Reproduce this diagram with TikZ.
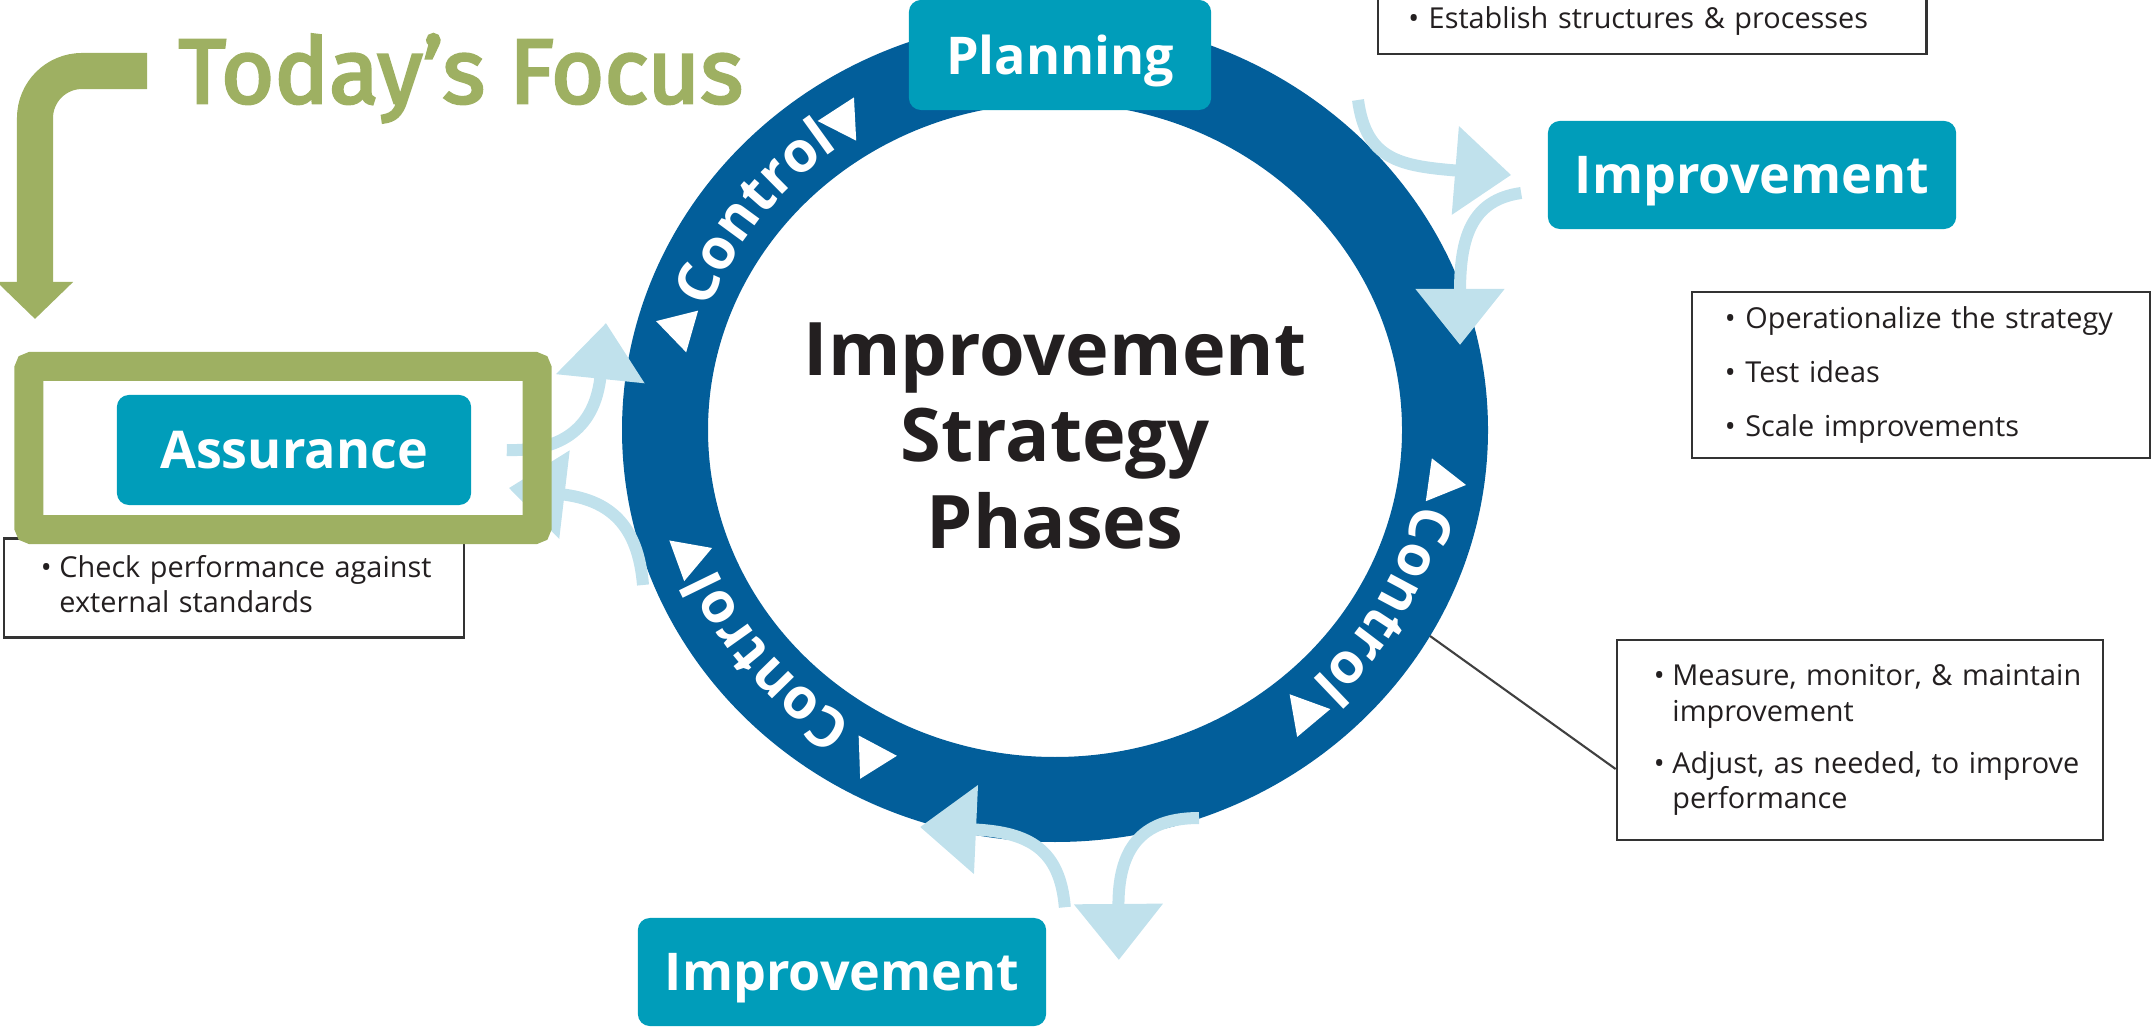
\documentclass[tikz,border=0pt]{standalone}
\usepackage{fontspec}
\setmainfont{Open Sans}
\newfontfamily\focusfont{Fira Sans}[FakeBold=3]
\usetikzlibrary{shapes.geometric,arrows.meta,decorations.text,calc}

\definecolor{ringblue}{RGB}{2,94,154}
\definecolor{phaseteal}{RGB}{0,157,186}
\definecolor{flowblue}{RGB}{192,225,236}
\definecolor{focusgreen}{RGB}{158,176,98}
\definecolor{inkgray}{RGB}{35,31,32}

\newcommand{\ctlfont}{\fontsize{16}{18}\selectfont\bfseries}

\begin{document}
\begin{tikzpicture}[x=0.01cm,y=-0.01cm,
	phase/.style={fill=phaseteal, text=white, rounded corners=0.12cm, text depth=0pt, font=\fontsize{14.8}{17}\selectfont\bfseries},
	notebox/.style={draw=black!80, line width=0.7pt, fill=white, align=left, font=\fontsize{8.2}{10}\selectfont, text=inkgray},
	flow/.style={draw=flowblue, line width=0.12cm, -{Triangle[length=0.56cm,width=0.86cm]}},
	tri/.style={regular polygon, regular polygon sides=3, fill=white, inner sep=0pt, minimum size=0.5cm}]
	
	\useasboundingbox (0,0) rectangle (2152,1028);
	
	\coordinate (ring) at (1055,430);
	\fill[ringblue, even odd rule] (ring) ellipse [x radius=433, y radius=412] (ring) ellipse [x radius=347, y radius=327];
	\node[font=\fontsize{21}{24.5}\selectfont\bfseries, text=inkgray, align=center] (title) at (1055,436) {Improvement\\Strategy\\Phases};
	
	\foreach \m/\a/\b in {217/196/237, 29/8/50, 140/118/160} {
		\path[decorate, decoration={text along path, text align=center, text={|\ctlfont\color{white}|Control}}]
		($(ring)+(\m-25:369 and 349)$) arc[start angle=\m-25, end angle=\m+25, x radius=369, y radius=349];
		\node[tri, rotate=-\a-90] at ($(ring)+(\a:390 and 370)$) {};
		\node[tri, rotate=-\b+90] at ($(ring)+(\b:390 and 370)$) {};
	}
	
	\node[notebox, inner xsep=0.30cm, text width=4.88cm, minimum height=0.66cm, anchor=south west] (estab) at (1377,55) {• Establish structures \& processes};
	\node[notebox, inner xsep=0.33cm, text width=3.92cm, minimum height=1.66cm] (oper) at (1921,375) {• Operationalize the strategy\\[5.3pt]• Test ideas\\[5.3pt]• Scale improvements};
	\node[notebox, inner xsep=0.37cm, text width=4.12cm, minimum height=2.00cm] (measure) at (1860,740) {%
		\begin{tabular}{@{}l@{\hspace{0.5ex}}l@{}}
			•&Measure, monitor, \& maintain\\
			&improvement\\[4.8pt]
			•&Adjust, as needed, to improve\\
			&performance
	\end{tabular}};
	\node[notebox, inner xsep=0.37cm, text width=3.86cm, minimum height=0.99cm] (check) at (234,588) {%
		\begin{tabular}{@{}l@{\hspace{0.5ex}}l@{}}
			•&Check performance against\\
			&external standards
	\end{tabular}};
	
	\node[phase, minimum width=3.02cm, minimum height=1.10cm] (plan) at (1060,55) {Planning};
	\node[phase, minimum width=4.08cm, minimum height=1.08cm] (impR) at (1752,175) {Improvement};
	\node[phase, minimum width=3.54cm, minimum height=1.10cm] (assur) at (294,450) {Assurance};
	\node[phase, minimum width=4.08cm, minimum height=1.08cm] (impB) at (842,972) {Improvement};
	
	\coordinate (topR) at (1358,100);
	\coordinate (sideR) at (1460,345);
	\coordinate (sideL) at (643,585);
	\coordinate (upL) at (606,323);
	\coordinate (botL) at (920,827);
	\coordinate (botR) at (1199,818);
	\coordinate (lead) at ($(ring)+(30:433 and 412)$);
	
	\draw[flow] (topR) .. controls (1366,160) and (1400,166) .. ([xshift=-0.36cm]impR.west);
	\draw[flow] ([xshift=-0.26cm,yshift=-0.18cm]impR.west) .. controls (1470,200) and (1460,240) .. (sideR);
	\draw[flow] ([xshift=0.35cm]assur.east) .. controls (570,452) and (596,420) .. (upL);
	\draw[flow] (sideL) .. controls (638,525) and (610,500) .. ([xshift=0.37cm,yshift=-0.38cm]assur.east);
	\draw[flow] ([xshift=0.18cm,yshift=0.1cm]impB.north east) .. controls (1060,850) and (1030,832) .. (botL);
	\draw[flow] (botR) .. controls (1140,818) and (1118,850) .. ([xshift=0.72cm,yshift=0.12cm]impB.east);
	
	\draw[black!75, line width=0.6pt] (lead) -- ([yshift=-0.29cm]measure.west);
	
	\node[draw=focusgreen, line width=0.29cm, rounded corners=0.03cm, minimum width=5.08cm, minimum height=1.63cm] (frame) at (283,448) {};
	\node[anchor=base west, text=focusgreen, font=\focusfont\fontsize{26}{30}\selectfont, inner sep=0pt] (focus) at (178,103) {Today’s Focus};
	\coordinate (bend) at (147,71);
	\draw[focusgreen, line width=0.36cm, rounded corners=0.47cm, -{Triangle[length=0.37cm,width=0.74cm]}] (bend) -- (35,71) -- (35,319);
	
\end{tikzpicture}
\end{document}
